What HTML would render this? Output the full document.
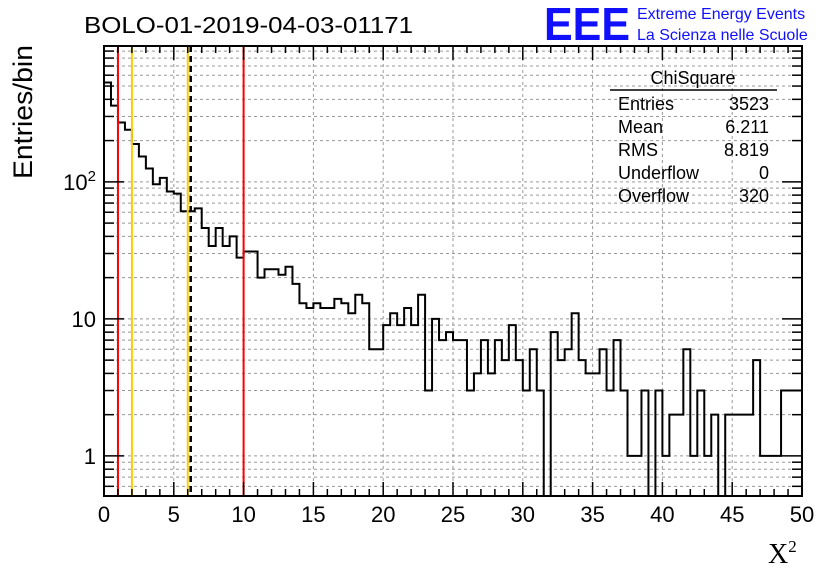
<!DOCTYPE html>
<html><head><meta charset="utf-8"><style>
body{margin:0;background:#fff;}
svg{display:block;font-family:"Liberation Sans",sans-serif;}
</style></head><body>
<svg id="chart" width="836" height="572" viewBox="0 0 836 572" xmlns="http://www.w3.org/2000/svg">
<rect width="836" height="572" fill="#fff"/>
<text x="84" y="33" font-size="23" textLength="329" lengthAdjust="spacingAndGlyphs">BOLO-01-2019-04-03-01171</text>
<text x="544" y="40" font-size="46" font-weight="bold" fill="#1010ff" textLength="86" lengthAdjust="spacingAndGlyphs">EEE</text>
<text x="637" y="19" font-size="16" fill="#1010ff">Extreme Energy Events</text>
<text x="637" y="40" font-size="16" fill="#1010ff">La Scienza nelle Scuole</text>
<text transform="translate(32,112) rotate(-90)" text-anchor="middle" font-size="27" textLength="134" lengthAdjust="spacingAndGlyphs">Entries/bin</text>
<text x="768" y="563" font-family="Liberation Serif,serif" font-size="28">X<tspan font-size="17" dy="-11">2</tspan></text>
<g id="grid"></g><g id="marks"></g><g id="axes"></g>
<g font-size="18">
<text x="693" y="84" text-anchor="middle">ChiSquare</text>
<line x1="610" y1="90" x2="777" y2="90" stroke="#000" stroke-width="1.5"/>
<text x="618" y="110">Entries</text><text x="769" y="110" text-anchor="end">3523</text>
<text x="618" y="133">Mean</text><text x="769" y="133" text-anchor="end">6.211</text>
<text x="618" y="156">RMS</text><text x="769" y="156" text-anchor="end">8.819</text>
<text x="618" y="179">Underflow</text><text x="769" y="179" text-anchor="end">0</text>
<text x="618" y="202">Overflow</text><text x="769" y="202" text-anchor="end">320</text>
</g>
</svg>
<script>
const counts=[531,360,271,240,189,153,125,96,107,85,82,61,61,64,46,34,46,34,40,28,31,31,20,23,23,21,24,18,13,12,13,12,12,14,13,11,15,13,6,6,9,11,9,12,9,15,3,10,7,8,7,7,3,4,7,4,7,5,9,5,3,6,3,0,8,5,6,11,5,4,4,6,3,7,3,1,1,3,0,3,1,2,2,6,1,3,1,2,0,2,2,2,2,5,1,1,1,3,3,3];
const binWidth=[0.5];
const xTicks=[0,5,10,15,20,25,30,35,40,45,50];
const yTickLabels=["1","10","10²"];
const yTickValues=[1,10,100];
const cutLines=[1,2,6,10];
const cutColors=["#f00","#fc0","#fc0","#f00"];
const meanValue=[6.211];
const NS="http://www.w3.org/2000/svg";
const X0=104,X1=802,Y0=46,Y1=496,YMIN=0.51,YMAX=980;
const sx=v=>X0+(v-0)/(50-0)*(X1-X0);
const sy=v=>{v=Math.max(v,YMIN);return Y1-(Math.log10(v)-Math.log10(YMIN))/(Math.log10(YMAX)-Math.log10(YMIN))*(Y1-Y0);};
function mk(tag,attrs,parent){const e=document.createElementNS(NS,tag);for(const k in attrs)e.setAttribute(k,attrs[k]);parent.appendChild(e);return e;}
const grid=document.getElementById('grid'),marks=document.getElementById('marks'),axes=document.getElementById('axes');
xTicks.forEach(t=>{if(t>0&&t<50){const l=mk('line',{x1:sx(t),x2:sx(t),y1:Y0,y2:Y1,stroke:'#999','stroke-dasharray':'3,3','stroke-width':1},grid);

}});
for(let d=0.1;d<=100;d*=10){for(let m=1;m<=9;m++){const v=d*m;if(v<YMIN||v>YMAX)continue;const l=mk('line',{x1:X0,x2:X1,y1:sy(v),y2:sy(v),stroke:'#999','stroke-dasharray':'3,3','stroke-width':1},grid);

}}
let d='';const w=binWidth[0];
counts.forEach((c,i)=>{const y=sy(c);const xa=sx(i*w),xb=sx((i+1)*w);d+=(i===0?'M'+xa+','+y:'L'+xa+','+y)+'L'+xb+','+y;});
const h=mk('path',{d:d,fill:'none',stroke:'#000','stroke-width':2},marks);


cutLines.forEach((v,i)=>{const l=mk('line',{x1:sx(v),x2:sx(v),y1:Y0,y2:Y1,stroke:cutColors[i],'stroke-width':2},marks);

});
const ml=mk('line',{x1:sx(meanValue[0]),x2:sx(meanValue[0]),y1:Y0,y2:Y1,stroke:'#000','stroke-width':2.5,'stroke-dasharray':'6,4'},marks);


const fr=mk('rect',{x:X0,y:Y0,width:X1-X0,height:Y1-Y0,fill:'none',stroke:'#000','stroke-width':2},axes);


for(let t=0;t<=50;t+=1){const big=t%5===0;const L=big?14:7;
mk('line',{x1:sx(t),x2:sx(t),y1:Y1,y2:Y1-L,stroke:'#000','stroke-width':1.5},axes);
mk('line',{x1:sx(t),x2:sx(t),y1:Y0,y2:Y0+L,stroke:'#000','stroke-width':1.5},axes);}
xTicks.forEach(t=>{const tx=mk('text',{x:sx(t),y:522,'text-anchor':'middle','font-size':22},axes);tx.textContent=t;

});
for(let dd=0.1;dd<=100;dd*=10){for(let m=1;m<=9;m++){const v=dd*m;if(v<YMIN||v>YMAX)continue;const L=m===1?20:10;
mk('line',{x1:X0,x2:X0+L,y1:sy(v),y2:sy(v),stroke:'#000','stroke-width':1.5},axes);
mk('line',{x1:X1,x2:X1-L,y1:sy(v),y2:sy(v),stroke:'#000','stroke-width':1.5},axes);}}
yTickValues.forEach((v,i)=>{const tx=mk('text',{x:96,y:sy(v)+8,'text-anchor':'end','font-size':22},axes);
if(i===2){tx.innerHTML='10<tspan font-size="15" dy="-9">2</tspan>';}else tx.textContent=yTickLabels[i];

});
</script>
</body></html>
